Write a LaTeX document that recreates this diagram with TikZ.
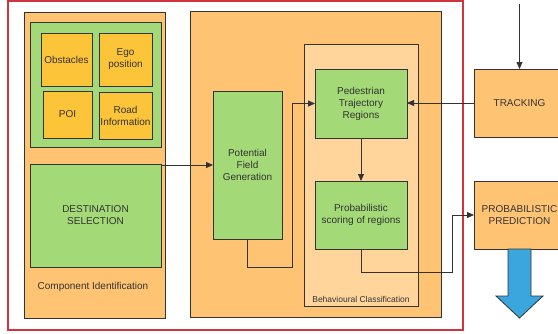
\documentclass[tikz,border=0pt]{standalone}
\usepackage{fontspec}
\setmainfont{Liberation Sans}
\usetikzlibrary{arrows.meta}
\definecolor{boxorange}{HTML}{FFC374}
\definecolor{boxpale}{HTML}{FFD59C}
\definecolor{boxgreen}{HTML}{A3D977}
\definecolor{boxyellow}{HTML}{FCC438}
\definecolor{framered}{HTML}{D0343F}
\definecolor{arrowblue}{HTML}{3AA6DD}
\definecolor{edge}{HTML}{333333}
\tikzset{
  block/.style={draw=edge, line width=1pt, inner sep=0pt, outer sep=0pt,
    text=edge, align=center, font=\fontsize{10}{12}\selectfont},
  panel/.style={block, fill=boxorange},
  stagebox/.style={block, fill=boxgreen},
  item/.style={block, fill=boxyellow},
  link/.style={draw=edge, line width=0.8pt, -{Triangle[length=7pt,width=6pt]}},
}
\begin{document}
\begin{tikzpicture}[x=1pt, y=-1pt]
    \clip (0,0) rectangle (558,333);
    \draw[framered, line width=2pt] (8,1) rectangle (463,330);

    \node[panel, minimum width=141, minimum height=306] (comp) at (94.5,165) {};
    \node[text=edge, font=\fontsize{10}{12}\selectfont] (complabel) at (93,287) {Component Identification};
        \node[stagebox, minimum width=131, minimum height=125] (env) at (95.5,84.5) {};
            \node[item, minimum width=51, minimum height=53] (obst) at (66.5,59.5) {Obstacles};
            \node[item, minimum width=53, minimum height=53] (ego) at (125.5,59.5) {Ego\\position};
            \node[item, minimum width=49, minimum height=47] (poi) at (67.5,114.5) {POI};
            \node[item, minimum width=53, minimum height=47] (road) at (125.5,115.5) {Road\\Information};
        \node[stagebox, minimum width=131, minimum height=103] (dest) at (95.5,215.5) {DESTINATION\\SELECTION};

    \node[panel, minimum width=251, minimum height=306] (main) at (315.5,164) {};
        \node[block, fill=boxpale, line width=0.8pt, minimum width=114, minimum height=262] (behav) at (361,175) {};
        \node[text=edge, font=\fontsize{8.5}{10}\selectfont] (behavlabel) at (361,299) {Behavioural Classification};
        \node[stagebox, minimum width=69, minimum height=148] (pfg) at (247.5,165) {Potential\\Field\\Generation};
        \node[stagebox, minimum width=92, minimum height=69] (ptr) at (361,103.5) {Pedestrian\\Trajectory\\Regions};
        \node[stagebox, minimum width=92, minimum height=68] (psr) at (361,215) {Probabilistic\\scoring of regions};

    \node[panel, minimum width=91, minimum height=68] (trk) at (519.5,103) {TRACKING};
    \node[panel, minimum width=91, minimum height=68] (pred) at (519.5,215) {PROBABILISTIC\\PREDICTION};

    \coordinate (trkin) at (519.5,4);
    \coordinate (bendA) at (292,267);
    \coordinate (bendB) at (452,272);

    \draw[link] (dest.east |- pfg.west) -- (pfg.west);
    \draw[link] (pfg.south) |- (bendA) |- (ptr.west);
    \draw[link] (ptr) -- (psr);
    \draw[link] (trkin) -- (trk.north);
    \draw[link] (trk.west) -- (trk.west -| ptr.east);
    \draw[link] (psr.south) |- (bendB) |- (pred.west);

    \draw[draw=edge, fill=arrowblue, line width=0.8pt] (pred.south) ++(-11.5,0) -- ++(0,47) -- ++(-12,0)
        -- ++(23.5,22) -- ++(23.5,-22) -- ++(-12,0) -- ++(0,-47) -- cycle;
\end{tikzpicture}
\end{document}
